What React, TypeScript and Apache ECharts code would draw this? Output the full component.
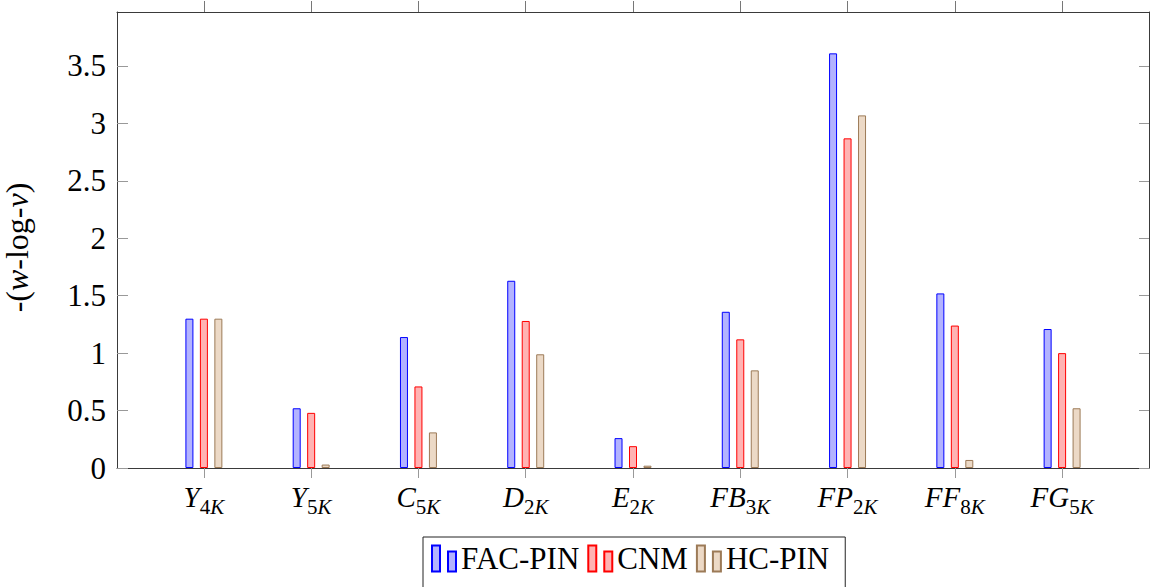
import React, { useEffect, useRef } from "react";
import * as echarts from "echarts";

const categories: [string, string, string][] = [
  ["Y", "4", "K"],
  ["Y", "5", "K"],
  ["C", "5", "K"],
  ["D", "2", "K"],
  ["E", "2", "K"],
  ["FB", "3", "K"],
  ["FP", "2", "K"],
  ["FF", "8", "K"],
  ["FG", "5", "K"],
];
const facPin = [1.3, 0.52, 1.14, 1.63, 0.26, 1.36, 3.61, 1.52, 1.21];
const cnm = [1.3, 0.48, 0.71, 1.28, 0.19, 1.12, 2.87, 1.24, 1.0];
const hcPin = [1.3, 0.03, 0.31, 0.99, 0.02, 0.85, 3.07, 0.07, 0.52];
const yTicks = [0, 0.5, 1, 1.5, 2, 2.5, 3, 3.5];
const xTicks = categories.map((_, i) => i);

const FONT = "Liberation Serif";
const ICON = "path://M0,0L8,0L8,26L0,26Z M16,6L24,6L24,26L16,26Z";

export default function App() {
  const ref = useRef<HTMLDivElement>(null);
  useEffect(() => {
    if (!ref.current) return;
    const chart = echarts.init(ref.current, null, { renderer: "svg" });
    const mk = (name: string, vals: number[], fill: string, stroke: string) => ({
      name,
      type: "bar",
      xAxisIndex: 0,
      yAxisIndex: 0,
      barWidth: 8,
      barGap: "81%",
      data: vals.map((v, i) => [i, v]),
      itemStyle: { color: fill, borderColor: stroke, borderWidth: 1 },
    });
    const axisLineStyle = { color: "#3a3a3a", width: 1 };
    const tickStyle = { color: "#999999", width: 1 };
    chart.setOption({
      animation: false,
      grid: { left: 117, right: 1, top: 12, bottom: 119, containLabel: false, outerBoundsMode: "none" },
      legend: {
        left: 423,
        top: 537,
        orient: "horizontal",
        borderColor: "#222",
        borderWidth: 1,
        padding: [6, 16, 16, 8],
        itemWidth: 24,
        itemHeight: 26,
        itemGap: 8,
        icon: ICON,
        textStyle: { fontFamily: FONT, fontSize: 31, color: "#000" },
        data: ["FAC-PIN", "CNM", "HC-PIN"],
      },
      xAxis: [
        {
          type: "value",
          min: -0.81,
          max: 8.81,
          position: "bottom",
          splitLine: { show: false },
          axisLine: { show: true, onZero: false, lineStyle: axisLineStyle },
          axisTick: { show: true, inside: false, length: 10, customValues: xTicks, lineStyle: tickStyle },
          axisLabel: {
            show: true,
            customValues: xTicks,
            margin: 14,
            formatter: (v: number) => {
              const c = categories[Math.round(v)];
              if (!c) return "";
              return `{m|${c[0]}}{n|${c[1]}}{k|${c[2]}}`;
            },
            rich: {
              m: { fontFamily: FONT, fontSize: 29, fontStyle: "italic", color: "#000", verticalAlign: "bottom", padding: [0, 0, 6, 0] },
              n: { fontFamily: FONT, fontSize: 21, color: "#000", verticalAlign: "bottom" },
              k: { fontFamily: FONT, fontSize: 21, fontStyle: "italic", color: "#000", verticalAlign: "bottom" },
            },
          },
        },
        {
          type: "value",
          min: -0.81,
          max: 8.81,
          position: "top",
          splitLine: { show: false },
          axisLine: { show: true, onZero: false, lineStyle: axisLineStyle },
          axisTick: { show: true, inside: false, length: 11, customValues: xTicks, lineStyle: { color: "#777", width: 1 } },
          axisLabel: { show: false },
        },
      ],
      yAxis: [
        {
          type: "value",
          min: 0,
          max: 3.97,
          position: "left",
          splitLine: { show: false },
          axisLine: { show: true, onZero: false, lineStyle: axisLineStyle },
          axisTick: { show: true, inside: true, length: 11, customValues: yTicks, lineStyle: tickStyle },
          axisLabel: {
            customValues: yTicks,
            margin: 11,
            fontFamily: FONT,
            fontSize: 31,
            color: "#000",
            formatter: (v: number) => String(v),
          },
          name: "{a|-(}{i|w}{a|-log-}{i|v}{a|)}",
          nameLocation: "middle",
          nameRotate: 90,
          nameGap: 84,
          nameTextStyle: {
            padding: [0, 15, 0, 0],
            rich: {
              a: { fontFamily: FONT, fontSize: 32, color: "#000" },
              i: { fontFamily: FONT, fontSize: 32, fontStyle: "italic", color: "#000" },
            },
          },
        },
        {
          type: "value",
          min: 0,
          max: 3.97,
          position: "right",
          splitLine: { show: false },
          axisLine: { show: true, onZero: false, lineStyle: axisLineStyle },
          axisTick: { show: true, inside: true, length: 10, customValues: yTicks, lineStyle: tickStyle },
          axisLabel: { show: false },
        },
      ],
      series: [
        mk("FAC-PIN", facPin, "#b3b3ff", "#0000ff"),
        mk("CNM", cnm, "#ffb3b3", "#ff0000"),
        mk("HC-PIN", hcPin, "#ecd9c6", "#9c7a57"),
      ],
    });
    return () => chart.dispose();
  }, []);
  return (
    <div
      ref={ref}
      style={{ position: "fixed", left: 0, top: 0, width: 1150, height: 587, background: "#fff" }}
    />
  );
}
